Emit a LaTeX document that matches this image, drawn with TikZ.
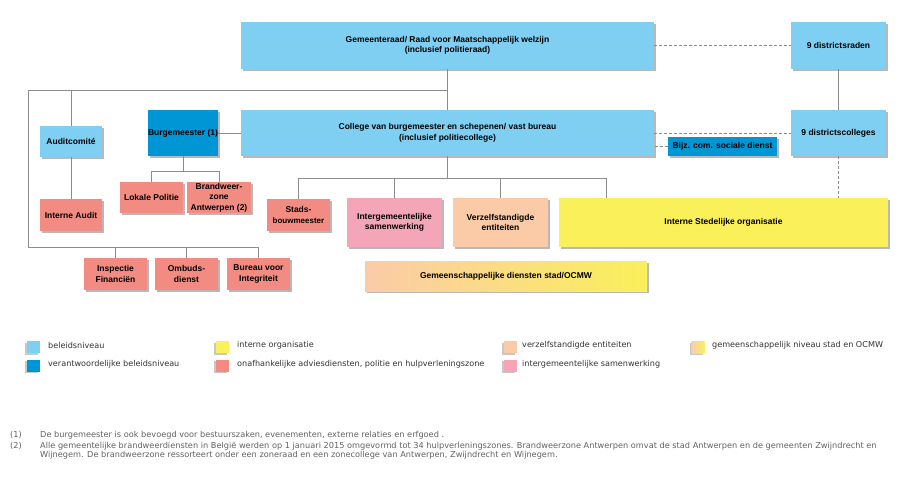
\documentclass[tikz,border=0pt]{standalone}
\usepackage{fontspec}
\setmainfont{Liberation Sans}
\newfontfamily\legfont{DejaVu Sans}
\newfontfamily\notefont{DejaVu Sans}
\usetikzlibrary{shadows}
\definecolor{lblue}{RGB}{127,207,243}
\definecolor{dblue}{RGB}{0,150,214}
\definecolor{salmon}{RGB}{242,140,130}
\definecolor{pinkc}{RGB}{244,166,184}
\definecolor{peach}{RGB}{251,203,168}
\definecolor{yellowc}{RGB}{250,240,90}
\definecolor{linec}{RGB}{140,140,140}
\begin{document}
\begin{tikzpicture}[x=1pt,y=-1pt,
  box/.style={draw=none, inner sep=1pt, align=center, text=black,
    font=\fontsize{8.5}{10.5}\selectfont\bfseries,
    drop shadow={shadow xshift=1.6pt, shadow yshift=-1.6pt, fill=black!28, opacity=1}},
  sq/.style={draw=none, minimum width=13, minimum height=12, inner sep=0pt,
    drop shadow={shadow xshift=-1.6pt, shadow yshift=-1.6pt, fill=black!22, opacity=1}},
  legtext/.style={anchor=west, inner sep=0pt, font=\legfont\fontsize{8.1}{9}\selectfont, text=black!80},
  notetext/.style={anchor=base west, inner sep=0pt, font=\notefont\fontsize{8.2}{9}\selectfont, text=black!62},
  conn/.style={draw=linec, line width=0.6pt},
  dconn/.style={draw=linec, line width=0.6pt, dash pattern=on 3pt off 2pt}]
\useasboundingbox (0,0) rectangle (900,484);

% boxes
\node[box, fill=lblue, minimum width=413, minimum height=47] (gr) at (447.5,45.5) {Gemeenteraad/ Raad voor Maatschappelijk welzijn\\(inclusief politieraad)};
\node[box, fill=lblue, minimum width=95, minimum height=47] (dr) at (838.5,45.5) {9 districtsraden};
\node[box, fill=lblue, minimum width=62, minimum height=31] (ac) at (71,141.5) {Auditcomité};
\node[box, fill=dblue, minimum width=70, minimum height=46, inner sep=0pt] (bm) at (183,133) {Burgemeester (1)};
\node[box, fill=lblue, minimum width=413, minimum height=46] (col) at (447.5,133) {College van burgemeester en schepenen/ vast bureau\\(inclusief politiecollege)};
\node[box, fill=dblue, minimum width=109, minimum height=19] (bz) at (722.5,146.5) {Bijz. com. sociale dienst};
\node[box, fill=lblue, minimum width=95, minimum height=46] (dc) at (838.5,133) {9 districtscolleges};
\node[box, fill=salmon, minimum width=62, minimum height=32] (ia) at (71,215) {Interne Audit};
\node[box, fill=salmon, minimum width=63, minimum height=31] (lp) at (151.5,197.5) {Lokale Politie};
\node[box, fill=salmon, minimum width=64, minimum height=31, inner sep=0pt] (bw) at (219,197.5) {Brandweer-\\zone\\Antwerpen (2)};
\node[box, fill=salmon, minimum width=63, minimum height=32] (sb) at (298.5,215) {Stads-\\{\fontsize{8}{9.5}\selectfont bouwmeester}};
\node[box, fill=pinkc, minimum width=95, minimum height=49] (ig) at (394.5,222.5) {Intergemeentelijke\\samenwerking};
\node[box, fill=peach, minimum width=95, minimum height=49] (ve) at (500.5,222.5) {Verzelfstandigde\\entiteiten};
\node[box, fill=yellowc, minimum width=329, minimum height=49] (is) at (723.5,222.5) {Interne Stedelijke organisatie};
\node[box, fill=salmon, minimum width=63, minimum height=32] (if) at (115.5,274) {Inspectie\\Financiën};
\node[box, fill=salmon, minimum width=63, minimum height=32] (od) at (186.5,274) {Ombuds-\\dienst};
\node[box, fill=salmon, minimum width=63, minimum height=32] (bi) at (258.5,274) {Bureau voor\\Integriteit};
\node[box, left color=peach, right color=yellowc, minimum width=282, minimum height=30] (gd) at (506,276) {Gemeenschappelijke diensten stad/OCMW};

% junction coordinates
\coordinate (tl) at (28,90);
\coordinate (bl) at (28,247);
\coordinate (bmj) at (183,171);
\coordinate (cj) at (447.5,178);
\coordinate (isj) at (606,178);

% connectors
\draw[dconn] (gr.east) -- (dr.west);
\draw[conn] (dr.south) -- (dc.north);
\draw[dconn] (col.east) -- (dc.west);
\draw[dconn] (bz.west) -- (bz.west -| col.east);
\draw[dconn] (dc.south) -- (dc.south |- is.north);
\draw[conn] (gr.south) -- (col.north);
\draw[conn] (tl -| gr.south) -- (tl) -- (bl) -- (bl -| bi.north) -- (bi.north);
\draw[conn] (ac.north) -- (ac.north |- tl);
\draw[conn] (if.north) -- (if.north |- bl);
\draw[conn] (od.north) -- (od.north |- bl);
\draw[conn] (bm.east) -- (col.west);
\draw[conn] (ac.south) -- (ia.north);
\draw[conn] (bm.south) -- (bmj);
\draw[conn] (lp.north) -- (lp.north |- bmj) -- (bw.north |- bmj) -- (bw.north);
\draw[conn] (col.south) -- (cj);
\draw[conn] (sb.north) -- (sb.north |- cj) -- (isj) -- (isj |- is.north);
\draw[conn] (ig.north) -- (ig.north |- cj);
\draw[conn] (ve.north) -- (ve.north |- cj);

% legend
\node[sq, fill=lblue] (l1) at (33.5,347) {};
\node[legtext] (t1) at (48,345.5) {beleidsniveau};
\node[sq, fill=dblue] (l2) at (33.5,365.5) {};
\node[legtext] (t2) at (48,364) {verantwoordelijke beleidsniveau};
\node[sq, fill=yellowc] (l3) at (222,347) {};
\node[legtext] (t3) at (237,345.5) {interne organisatie};
\node[sq, fill=salmon] (l4) at (222,365.5) {};
\node[legtext] (t4) at (237,364) {onafhankelijke adviesdiensten, politie en hulpverleningszone};
\node[sq, fill=peach] (l5) at (510,347) {};
\node[legtext] (t5) at (522,345.5) {verzelfstandigde entiteiten};
\node[sq, fill=pinkc] (l6) at (510,365.5) {};
\node[legtext] (t6) at (522,364) {intergemeentelijke samenwerking};
\node[sq, left color=peach, right color=yellowc] (l7) at (698,347) {};
\node[legtext] (t7) at (712,345.5) {gemeenschappelijk niveau stad en OCMW};

% footnotes
\node[notetext] (n1) at (10,437.5) {(1)};
\node[notetext] (m1) at (40,437.5) {De burgemeester is ook bevoegd voor bestuurszaken, evenementen, externe relaties en erfgoed .};
\node[notetext] (n2) at (10,448) {(2)};
\node[notetext] (m2) at (40,448) {Alle gemeentelijke brandweerdiensten in België werden op 1 januari 2015 omgevormd tot 34 hulpverleningszones. Brandweerzone Antwerpen omvat de stad Antwerpen en de gemeenten Zwijndrecht en};
\node[notetext] (m3) at (40,457) {Wijnegem. De brandweerzone ressorteert onder een zoneraad en een zonecollege van Antwerpen, Zwijndrecht en Wijnegem.};
\end{tikzpicture}
\end{document}
